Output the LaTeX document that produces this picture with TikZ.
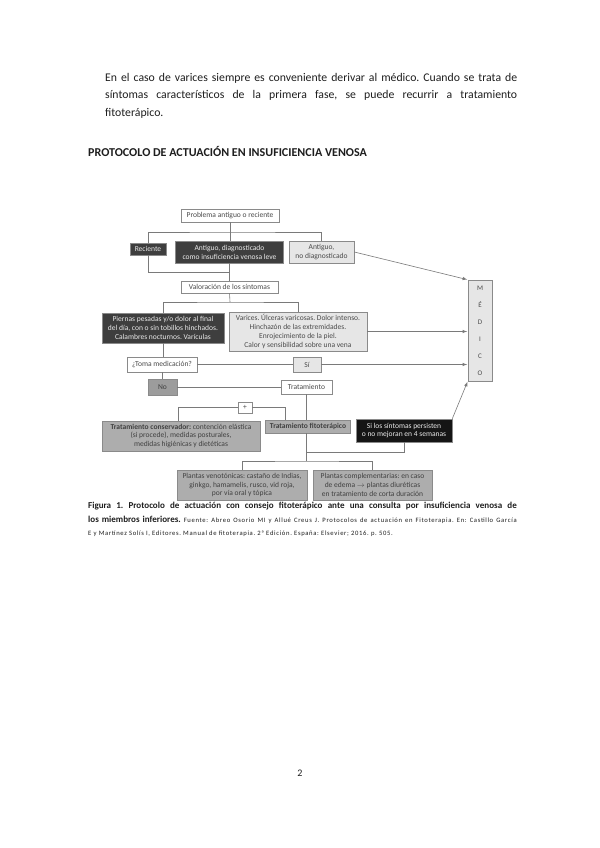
\documentclass[tikz,border=0pt]{standalone}
\usepackage{fontspec}
\setmainfont{Carlito}
\newfontfamily\srcfont[LetterSpace=10]{Carlito}
\usetikzlibrary{arrows}
\frenchspacing

\definecolor{boxline}{HTML}{8A8A8A}
\definecolor{wireline}{HTML}{7A7A7A}
\definecolor{boxtext}{HTML}{4A4A4A}
\definecolor{darkfill}{HTML}{3E3E3E}
\definecolor{lightfill}{HTML}{E6E6E6}
\definecolor{midfill}{HTML}{ADADAD}
\definecolor{nofill}{HTML}{9C9C9C}
\definecolor{blackfill}{HTML}{151515}
\definecolor{pagetext}{HTML}{1E1E1E}

\newcommand{\dfont}{\fontsize{7.5}{8.8}\selectfont}

\begin{document}
\begin{tikzpicture}[x=0.035cm,y=-0.035cm,>=latex,
  box/.style={draw=boxline,line width=0.6pt,text=boxtext,font=\dfont,align=center,inner sep=1pt},
  whitebox/.style={box,fill=white},
  darkbox/.style={box,fill=darkfill,text=white!92!black},
  lightbox/.style={box,fill=lightfill},
  midbox/.style={box,fill=midfill,text=black!75},
  blackbox/.style={box,fill=blackfill,text=white!92!black},
  wire/.style={draw=wireline,line width=0.6pt},
  arrowwire/.style={wire,->,shorten >=0.5pt}]
\useasboundingbox[fill=white] (0,0) rectangle (600,848);

% page text
\node[anchor=north west,inner sep=0,text width=14.42cm,align=justify,text=pagetext,
  font=\fontsize{11.7}{17.4}\selectfont] (intro) at (105,73)
  {En el caso de varices siempre es conveniente derivar al médico. Cuando se trata de\linebreak
   síntomas característicos de la primera fase, se puede recurrir a tratamiento\linebreak
   fitoterápico.};
\node[anchor=west,inner sep=0,text=pagetext,font=\fontsize{12}{14}\selectfont\bfseries] (title)
  at (88,151) {PROTOCOLO DE ACTUACIÓN EN INSUFICIENCIA VENOSA};

% first level
\node[whitebox,minimum width=3.43cm,minimum height=0.455cm] (prob) at (230,215.5) {Problema antiguo o reciente};
\node[darkbox,minimum width=1.26cm,minimum height=0.42cm] (rec) at (148,249) {Reciente};
\node[darkbox,minimum width=3.78cm,minimum height=0.77cm] (antdiag) at (229.5,252) {Antiguo, diagnosticado\\como insuficiencia venosa leve};
\node[lightbox,minimum width=2.275cm,minimum height=0.77cm] (antno) at (321.5,252) {Antiguo,\\no diagnosticado};
\node[whitebox,minimum width=3.395cm,minimum height=0.42cm] (valor) at (229.5,287) {Valoración de los síntomas};

% symptoms
\node[darkbox,minimum width=4.27cm,minimum height=1.05cm] (piernas) at (163,328)
  {Piernas pesadas y/o dolor al final\\del día, con o sin tobillos hinchados.\\Calambres nocturnos. Varículas};
\node[lightbox,minimum width=4.83cm,minimum height=1.365cm] (varices) at (298,331.5)
  {Varices. Úlceras varicosas. Dolor intenso.\\Hinchazón de las extremidades.\\Enrojecimiento de la piel.\\Calor y sensibilidad sobre una vena};
\node[whitebox,minimum width=2.45cm,minimum height=0.525cm] (toma) at (162,364.5) {¿Toma medicación?};
\node[lightbox,minimum width=0.98cm,minimum height=0.525cm] (si) at (307,364.5) {Sí};
\node[box,fill=nofill,text=black!75,minimum width=1.015cm,minimum height=0.56cm] (no) at (162.5,387) {No};
\node[whitebox,minimum width=1.785cm,minimum height=0.49cm] (trat) at (306.5,387) {Tratamiento};

% treatment
\node[whitebox,minimum width=0.49cm,minimum height=0.385cm] (plus) at (245,407.5) {+};
\node[midbox,minimum width=5.53cm,minimum height=1.05cm] (cons) at (181,436)
  {\textbf{Tratamiento conservador:} contención elástica\\(si procede), medidas posturales,\\medidas higiénicas y dietéticas};
\node[midbox,minimum width=2.975cm,minimum height=0.455cm] (fito) at (308,426.5) {\textbf{Tratamiento fitoterápico}};
\node[blackbox,minimum width=3.36cm,minimum height=0.805cm] (sint) at (404,430.5)
  {Si los síntomas persisten\\o no mejoran en 4 semanas};
\node[midbox,minimum width=4.55cm,minimum height=1.05cm] (veno) at (242,485)
  {Plantas venotónicas: castaño de Indias,\\ginkgo, hamamelis, rusco, vid roja,\\por vía oral y tópica};
\node[midbox,minimum width=4.165cm,minimum height=1.05cm] (compl) at (372.5,485)
  {Plantas complementarias: en caso\\de edema $\rightarrow$ plantas diuréticas\\en tratamiento de corta duración};

\node[lightbox,minimum width=0.84cm,minimum height=3.535cm,font=\fontsize{7}{16.9}\selectfont] (medico)
  at (480,330.5) {M\\É\\D\\I\\C\\O};

% junctions
\coordinate (j1) at (230,232);
\coordinate (j2) at (230,272);
\coordinate (j3) at (230,302);
\coordinate (j4) at (306.5,452);
\coordinate (j5) at (306.5,461);
\coordinate (pl) at (178,407.5);
\coordinate (pr) at (285,407.5);

% connectors
\draw[wire] (prob.south) -- (prob.south |- antdiag.north);
\draw[wire] (rec.north) |- (j1) -| (antno.north);
\draw[wire] (rec.south) |- (j2);
\draw[wire] (antdiag.south -| valor.north) -- (valor.north);
\draw[arrowwire] (antno.east) -- (medico.north west);
\draw[wire] (valor.south) -- (j3);
\draw[wire] (piernas.north) |- (j3) -| (varices.north);
\draw[arrowwire] (varices.east) -- (medico.west |- varices.east);
\draw[wire] (piernas.south) -- (toma.north -| piernas.south);
\draw[wire] (toma.east) -- (si.west);
\draw[arrowwire] (si.east) -- (medico.west |- si.east);
\draw[wire] (toma.south) -- (no.north -| toma.south);
\draw[wire] (no.east) -- (trat.west);
\draw[wire] (trat.south) -- (trat.south |- fito.north);
\draw[wire] (pl |- cons.north) |- (plus.west);
\draw[wire] (plus.east) -| (pr |- fito.north);
\draw[wire] (fito.south -| j5) -- (j5);
\draw[wire] (j4) -| (sint.south);
\draw[wire] (veno.north) |- (j5) -| (compl.north);
\draw[arrowwire] (sint.north east) -- (medico.south west);

% caption
\node[anchor=north west,inner sep=0,text width=15cm,align=justify,text=pagetext,
  font=\fontsize{9}{13.5}\selectfont] (caption) at (88,502)
  {\textbf{Figura 1. Protocolo de actuación con consejo fitoterápico ante una consulta por insuficiencia venosa de}\linebreak
   \textbf{los miembros inferiores.} {\srcfont\fontsize{6.6}{13.5}\selectfont Fuente: Abreo Osorio MI y Allué Creus J. Protocolos de actuación en Fitoterapia. En: Castillo García}\linebreak
   {\srcfont\fontsize{6.6}{13.5}\selectfont E y Martínez Solís I, Editores. Manual de fitoterapia. 2ª Edición. España: Elsevier; 2016. p. 505.}};

\node[inner sep=0,text=pagetext,font=\fontsize{10}{12}\selectfont] (pagenum) at (300,773) {2};
\end{tikzpicture}
\end{document}
